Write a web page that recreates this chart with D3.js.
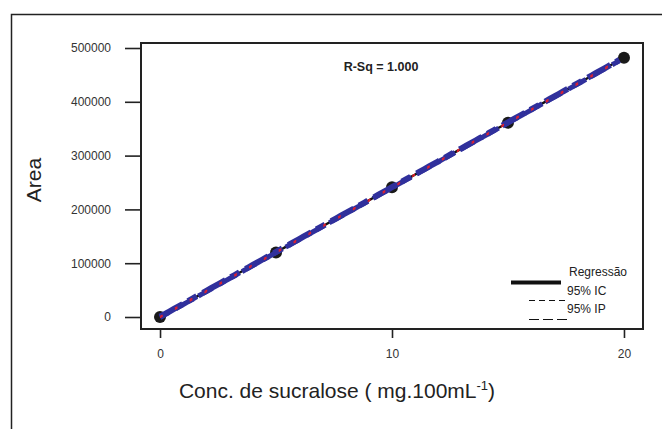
<!DOCTYPE html>
<html>
<head>
    <title>Curva de calibracao - sucralose</title>
    <style>
        body { margin: 0; background: #ffffff; }
        svg text { font-family: "Liberation Sans", Arial, sans-serif; fill: #222; }
        .tick text { font-size: 12px; fill: #333; }
        .tick line { stroke: #222; stroke-width: 1.6px; }
    </style>
    <script src="https://d3js.org/d3.v7.min.js"></script>
</head>
<body>
    <div id="chart"></div>
    <script>
        // concentracao (mg/100mL) e area do pico
        var conc = [0, 5, 10, 15, 20];
        var area = [0, 120000, 241000, 361000, 482000];
        var xTicks = [0, 10, 20];
        var yTicks = [0, 100000, 200000, 300000, 400000, 500000];
        var legendLabels = ["Regressão", "95% IC", "95% IP"];
        var tCrit = 3.182; // t(0.975, gl = 3)

        var W = 662, H = 429;
        var box = { left: 141, right: 643, top: 43, bottom: 329 };

        var svg = d3.select('#chart').append('svg')
            .attr('width', W)
            .attr('height', H);

        // moldura externa
        svg.append('path')
            .attr('d', 'M11.5,' + H + 'V14.5H' + W)
            .attr('fill', 'none')
            .attr('stroke', '#222')
            .attr('stroke-width', 1.5);

        var x = d3.scaleLinear().domain([-0.82, 20.82]).range([box.left, box.right]);
        var y = d3.scaleLinear().domain([-22300, 509300]).range([box.bottom, box.top]);

        // regressao linear
        var n = conc.length;
        var mx = d3.mean(conc), my = d3.mean(area);
        var sxx = d3.sum(conc, function(d) { return (d - mx) * (d - mx); });
        var sxy = d3.sum(conc, function(d, i) { return (d - mx) * (area[i] - my); });
        var b1 = sxy / sxx, b0 = my - b1 * mx;
        var sse = d3.sum(conc, function(d, i) { var r = area[i] - (b0 + b1 * d); return r * r; });
        var s = Math.sqrt(sse / (n - 2));

        var grid = d3.range(0, 19.801, 0.2);
        function band(extra, sign) {
            return grid.map(function(g) {
                var se = s * Math.sqrt(extra + 1 / n + (g - mx) * (g - mx) / sxx);
                return [g, b0 + b1 * g + sign * tCrit * se];
            });
        }

        var line = d3.line()
            .x(function(d) { return x(d[0]); })
            .y(function(d) { return y(d[1]); });

        // eixos
        svg.append('g')
            .attr('transform', 'translate(' + box.left + ',0)')
            .call(d3.axisLeft(y).tickValues(yTicks).tickSize(16).tickPadding(14).tickFormat(d3.format('d')))
            .call(function(g) { g.select('.domain').remove(); });

        svg.append('g')
            .attr('transform', 'translate(0,' + box.bottom + ')')
            .call(d3.axisBottom(x).tickValues(xTicks).tickSize(9).tickPadding(11))
            .call(function(g) { g.select('.domain').remove(); });

        // pontos
        svg.selectAll('circle')
            .data(conc)
            .enter()
            .append('circle')
            .attr('cx', function(d) { return x(d); })
            .attr('cy', function(d, i) { return y(area[i]); })
            .attr('r', 6)
            .attr('fill', '#1a1a1a');

        // linha de regressao
        svg.append('path')
            .datum(grid.map(function(g) { return [g, b0 + b1 * g]; }))
            .attr('d', line)
            .attr('fill', 'none')
            .attr('stroke', '#111')
            .attr('stroke-width', 2.4);

        // IC 95% (azul)
        svg.append('path')
            .datum(band(0, 1))
            .attr('d', line)
            .attr('fill', 'none')
            .attr('stroke', '#30309c')
            .attr('stroke-width', 6)
            .attr('stroke-dasharray', '26,6,10,7');
        svg.append('path')
            .datum(band(0, -1))
            .attr('d', line)
            .attr('fill', 'none')
            .attr('stroke', '#30309c')
            .attr('stroke-width', 5)
            .attr('stroke-dasharray', '16,8,20,6')
            .attr('stroke-dashoffset', 6);

        // IP 95% (vermelho)
        [1, -1].forEach(function(sg) {
            svg.append('path')
                .datum(band(1, sg))
                .attr('d', line)
                .attr('fill', 'none')
                .attr('stroke', '#e8202a')
                .attr('stroke-width', 1.2)
                .attr('stroke-dasharray', '3,14');
        });

        // caixa do grafico
        svg.append('rect')
            .attr('x', box.left)
            .attr('y', box.top)
            .attr('width', box.right - box.left)
            .attr('height', box.bottom - box.top)
            .attr('fill', 'none')
            .attr('stroke', '#222')
            .attr('stroke-width', 2);

        svg.append('text')
            .attr('x', 381)
            .attr('y', 71)
            .attr('text-anchor', 'middle')
            .style('font-size', '12.5px')
            .style('font-weight', 'bold')
            .text('R-Sq = 1.000');

        // legenda
        var leg = svg.append('g');
        leg.append('line').attr('x1', 511).attr('x2', 561).attr('y1', 282.5).attr('y2', 282.5)
            .attr('stroke', '#111').attr('stroke-width', 4);
        leg.append('line').attr('x1', 529).attr('x2', 567).attr('y1', 300.5).attr('y2', 300.5)
            .attr('stroke', '#111').attr('stroke-width', 1).attr('stroke-dasharray', '6,4');
        leg.append('line').attr('x1', 529).attr('x2', 567).attr('y1', 319.5).attr('y2', 319.5)
            .attr('stroke', '#111').attr('stroke-width', 1).attr('stroke-dasharray', '10,4');
        leg.selectAll('text')
            .data(legendLabels)
            .enter()
            .append('text')
            .attr('x', function(d, i) { return i === 0 ? 569 : 567; })
            .attr('y', function(d, i) { return 276 + i * 18.5; })
            .style('font-size', '12px')
            .text(function(d) { return d; });

        // titulos dos eixos
        var xt = svg.append('text')
            .attr('x', 337)
            .attr('y', 398)
            .attr('text-anchor', 'middle')
            .style('font-size', '21px');
        xt.append('tspan').text('Conc. de sucralose ( mg.100mL');
        xt.append('tspan').attr('dy', -8).style('font-size', '13px').text('-1');
        xt.append('tspan').attr('dy', 8).text(')');

        svg.append('text')
            .attr('transform', 'translate(41,180) rotate(-90)')
            .attr('text-anchor', 'middle')
            .style('font-size', '21px')
            .text('Area');
    </script>
</body>
</html>
